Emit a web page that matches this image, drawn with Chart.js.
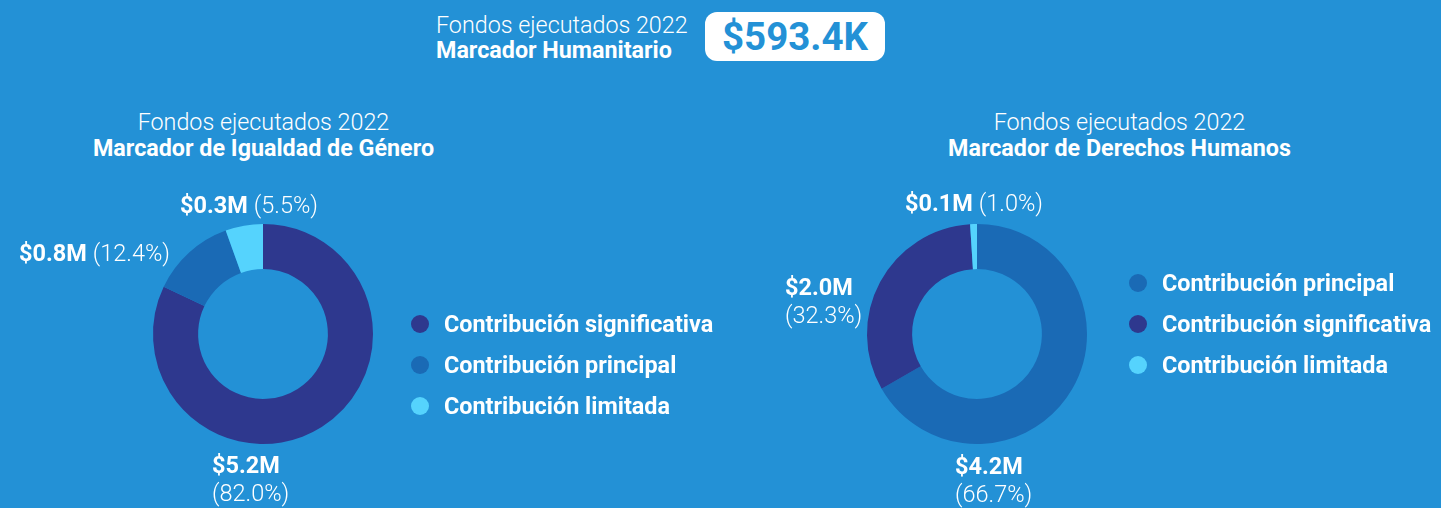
<!DOCTYPE html>
<html lang="es">
<head>
<meta charset="utf-8">
<title>Fondos ejecutados 2022</title>
<script src="https://cdn.jsdelivr.net/npm/chart.js@4/dist/chart.umd.min.js"></script>
<style>
  html, body { margin: 0; padding: 0; }
  body {
    width: 1441px; height: 508px; overflow: hidden; position: relative;
    background: #2391d6; color: #fff; font-family: Roboto, "Noto Sans", sans-serif;
  }
  .light { font-weight: 300; }
  .bold { font-weight: 700; }
  .abs { position: absolute; white-space: nowrap; }
  .head { font-size: 23.3px; line-height: 26px; }
  .center { transform: translateX(-50%); text-align: center; }
  #total {
    position: absolute; left: 705px; top: 12px; width: 180px; height: 49px;
    background: #fff; border-radius: 12px; color: #2391d6;
    font-weight: 700; font-size: 38.5px; line-height: 50px; text-align: center;
  }
  canvas { position: absolute; top: 0; }
  #genero { left: 0; }
  #derechos { left: 720px; }
</style>
</head>
<body>
<div class="abs head light" style="left:436px; top:12px;">Fondos ejecutados 2022</div>
<div class="abs head bold" style="left:436px; top:37px;">Marcador Humanitario</div>
<div id="total"></div>

<div class="abs head center" style="left:263.5px; top:109px;">
  <div class="light">Fondos ejecutados 2022</div>
  <div class="bold">Marcador de Igualdad de Género</div>
</div>
<div class="abs head center" style="left:1119.5px; top:109px;">
  <div class="light">Fondos ejecutados 2022</div>
  <div class="bold">Marcador de Derechos Humanos</div>
</div>

<canvas id="genero" width="720" height="508"></canvas>
<canvas id="derechos" width="721" height="508"></canvas>

<script>
// Humanitarian marker total (thousands of USD)
const humanitarioTotalK = 593.4;

// Gender equality marker
const generoCategorias = ['Contribución significativa', 'Contribución principal', 'Contribución limitada'];
const generoMontosM = [5.2, 0.8, 0.3];
const generoPorcentajes = [82.0, 12.4, 5.5];

// Human rights marker
const derechosCategorias = ['Contribución principal', 'Contribución significativa', 'Contribución limitada'];
const derechosMontosM = [4.2, 2.0, 0.1];
const derechosPorcentajes = [66.7, 32.3, 1.0];

const COLORES = {
  'Contribución significativa': '#2e388e',
  'Contribución principal': '#1a6ab5',
  'Contribución limitada': '#55d3fd'
};

document.getElementById('total').textContent = '$' + humanitarioTotalK.toFixed(1) + 'K';

const FONT = 'Roboto, "Noto Sans", sans-serif';
const fmtMonto = v => '$' + v.toFixed(1) + 'M';
const fmtPct = v => '(' + v.toFixed(1) + '%)';

// Draws the value labels around the ring and the legend to its right.
const anotaciones = {
  id: 'anotaciones',
  afterDraw(chart, args, opts) {
    const ctx = chart.ctx;
    const meta = chart.getDatasetMeta(0);
    const cx = meta.data[0].x, cy = meta.data[0].y;
    const montos = opts.montos, pcts = opts.porcentajes;
    const bold = '700 23.5px ' + FONT, light = '300 23.5px ' + FONT;
    ctx.save();
    ctx.fillStyle = '#fff';
    ctx.textBaseline = 'middle';
    opts.etiquetas.forEach((e, i) => {
      const a = fmtMonto(montos[i]), b = fmtPct(pcts[i]);
      if (e.lineas === 2) {
        ctx.textAlign = 'left';
        ctx.font = bold; ctx.fillText(a, cx + e.dx, cy + e.dy);
        ctx.font = light; ctx.fillText(b, cx + e.dx, cy + e.dy + 28);
      } else {
        ctx.font = bold; const wa = ctx.measureText(a + ' ').width;
        ctx.font = light; const wb = ctx.measureText(b).width;
        const w = wa + wb;
        let x0 = cx + e.dx;
        if (e.align === 'center') x0 -= w / 2;
        else if (e.align === 'right') x0 -= w;
        ctx.textAlign = 'left';
        ctx.font = bold; ctx.fillText(a, x0, cy + e.dy);
        ctx.font = light; ctx.fillText(b, x0 + wa, cy + e.dy);
      }
    });
    // legend
    const ds = chart.data.datasets[0];
    chart.data.labels.forEach((lab, i) => {
      const y = cy + opts.leyenda.dy + i * 41;
      ctx.beginPath();
      ctx.arc(cx + opts.leyenda.dx, y, 9, 0, Math.PI * 2);
      ctx.fillStyle = ds.backgroundColor[i];
      ctx.fill();
      ctx.fillStyle = '#fff';
      ctx.font = '700 23.4px ' + FONT;
      ctx.textAlign = 'left';
      ctx.fillText(lab, cx + opts.leyenda.dx + 24, y + 2);
    });
    ctx.restore();
  }
};

function anillo(id, categorias, porcentajes, montos, padding, etiquetas, leyenda) {
  return new Chart(document.getElementById(id), {
    type: 'doughnut',
    data: {
      labels: categorias,
      datasets: [{
        data: porcentajes,
        backgroundColor: categorias.map(c => COLORES[c]),
        borderWidth: 0
      }]
    },
    options: {
      responsive: false,
      animation: false,
      cutout: '59%',
      layout: { padding },
      plugins: {
        legend: { display: false },
        tooltip: { enabled: false },
        anotaciones: { montos, porcentajes, etiquetas, leyenda }
      }
    },
    plugins: [anotaciones]
  });
}

anillo('genero', generoCategorias, generoPorcentajes, generoMontosM,
  { left: 153, right: 347, top: 224, bottom: 64 },
  [
    { lineas: 2, dx: -51, dy: 133 },
    { lineas: 1, align: 'right', dx: -93, dy: -79 },
    { lineas: 1, align: 'center', dx: -14, dy: -127 }
  ],
  { dx: 157, dy: -10 }
);

anillo('derechos', derechosCategorias, derechosPorcentajes, derechosMontosM,
  { left: 147, right: 354, top: 224, bottom: 64 },
  [
    { lineas: 2, dx: -22, dy: 134 },
    { lineas: 2, dx: -192, dy: -45 },
    { lineas: 1, align: 'center', dx: -3, dy: -129 }
  ],
  { dx: 161, dy: -51 }
);
</script>
</body>
</html>
